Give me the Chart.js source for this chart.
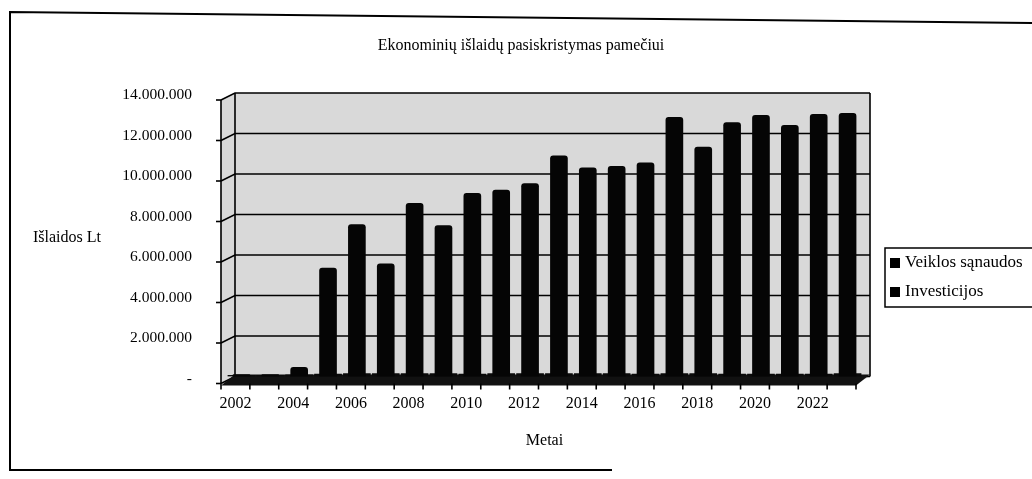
<!doctype html>
<html>

<head>
	<title>Ekonominių išlaidų pasiskristymas pamečiui</title>
	<script src="https://cdn.jsdelivr.net/npm/chart.js@4/dist/chart.umd.min.js"></script>
	<style>
		body { margin: 0; background: #fff; }
	</style>
</head>

<body>
	<canvas id="chart-area" width="1032" height="479"></canvas>
	<script>
		// data
		var years = ['2002', '2003', '2004', '2005', '2006', '2007', '2008', '2009', '2010', '2011', '2012',
			'2013', '2014', '2015', '2016', '2017', '2018', '2019', '2020', '2021', '2022', '2023'];
		var veiklosSanaudos = [100000, 100000, 450000, 5350000, 7500000, 5570000, 8550000, 7450000, 9040000, 9200000, 9530000,
			10900000, 10300000, 10380000, 10550000, 12800000, 11330000, 12540000, 12900000, 12400000, 12950000, 13000000];
		var investicijos = [60000, 60000, 80000, 120000, 150000, 150000, 150000, 150000, 120000, 150000, 150000,
			150000, 150000, 150000, 120000, 150000, 150000, 120000, 120000, 120000, 120000, 150000];
		var yTicks = [0, 2000000, 4000000, 6000000, 8000000, 10000000, 12000000, 14000000];

		var titleText = 'Ekonominių išlaidų pasiskristymas pamečiui';
		var yTitle = 'Išlaidos Lt';
		var xTitle = 'Metai';

		var SERIF = "'Liberation Serif', 'Times New Roman', serif";
		// 3D offsets: front face and back wall relative to the bar plane
		var FX = -6, FY = 7, BX = 8;

		function formatLt(v) {
			if (v === 0) return '-';
			return String(v).replace(/\B(?=(\d{3})+(?!\d))/g, '.');
		}

		var frame3d = {
			id: 'frame3d',
			beforeDatasetsDraw: function(chart) {
				var ctx = chart.ctx, a = chart.chartArea, y = chart.scales.y;
				var y0 = y.getPixelForValue(0), yTop = y.getPixelForValue(14000000);
				ctx.save();
				// walls
				ctx.fillStyle = '#d9d9d9';
				ctx.beginPath();
				ctx.moveTo(a.left + FX, y0 + FY);
				ctx.lineTo(a.left + FX, yTop + FY);
				ctx.lineTo(a.left + BX, yTop);
				ctx.lineTo(a.right + BX, yTop);
				ctx.lineTo(a.right + BX, y0);
				ctx.lineTo(a.right + FX, y0 + FY);
				ctx.closePath();
				ctx.fill();

				ctx.strokeStyle = '#000';
				ctx.lineWidth = 1.6;
				yTicks.forEach(function(v) {
					var p = y.getPixelForValue(v);
					ctx.beginPath();
					ctx.moveTo(a.left + FX, p + FY);
					ctx.lineTo(a.left + BX, p);
					ctx.lineTo(a.right + BX, p);
					ctx.stroke();
					ctx.beginPath();
					ctx.moveTo(a.left + FX - 5, p + FY);
					ctx.lineTo(a.left + FX, p + FY);
					ctx.stroke();
				});
				ctx.beginPath();
				ctx.moveTo(a.left + FX, yTop + FY);
				ctx.lineTo(a.left + FX, y0 + FY);
				ctx.moveTo(a.left + BX, yTop);
				ctx.lineTo(a.left + BX, y0);
				ctx.moveTo(a.right + BX, yTop);
				ctx.lineTo(a.right + BX, y0);
				ctx.stroke();

				// floor
				ctx.fillStyle = '#111';
				ctx.beginPath();
				ctx.moveTo(a.left + FX, y0 + FY + 2);
				ctx.lineTo(a.left + BX, y0 - 2);
				ctx.lineTo(a.right + BX, y0 - 2);
				ctx.lineTo(a.right + FX, y0 + FY + 2);
				ctx.closePath();
				ctx.fill();

				// category ticks on the front edge
				var step = (a.right - a.left) / years.length;
				ctx.beginPath();
				for (var i = 0; i <= years.length; i++) {
					var x = a.left + i * step + FX;
					ctx.moveTo(x, y0 + FY);
					ctx.lineTo(x, y0 + FY + 6);
				}
				ctx.stroke();
				ctx.restore();
			},
			afterDraw: function(chart) {
				var ctx = chart.ctx;
				ctx.save();
				ctx.fillStyle = '#000';
				ctx.textBaseline = 'middle';
				ctx.font = '16px ' + SERIF;
				ctx.textAlign = 'center';
				ctx.fillText(titleText, 521, 46);
				ctx.textAlign = 'left';
				ctx.fillText(yTitle, 33, 238);

				// legend
				ctx.strokeStyle = '#000';
				ctx.lineWidth = 1.5;
				ctx.beginPath();
				ctx.moveTo(1034, 248);
				ctx.lineTo(885, 248);
				ctx.lineTo(885, 307);
				ctx.lineTo(1034, 307);
				ctx.stroke();
				ctx.font = '17px ' + SERIF;
				var items = chart.data.datasets;
				items.forEach(function(ds, i) {
					var cy = 263 + i * 29;
					ctx.fillStyle = '#000';
					ctx.fillRect(890, cy - 5, 10, 10);
					ctx.fillText(ds.label, 905, cy);
				});

				// outer frame of the scanned page
				ctx.lineWidth = 2;
				ctx.beginPath();
				ctx.moveTo(1032, 23);
				ctx.lineTo(10, 12);
				ctx.lineTo(10, 470);
				ctx.lineTo(612, 470);
				ctx.stroke();
				ctx.restore();
			}
		};

		var config = {
			type: 'bar',
			data: {
				labels: years,
				datasets: [{
					label: 'Veiklos sąnaudos',
					data: veiklosSanaudos,
					backgroundColor: '#050505',
					grouped: false,
					barThickness: 17,
					borderRadius: { topLeft: 3, topRight: 3 },
					borderSkipped: 'start'
				}, {
					label: 'Investicijos',
					data: investicijos,
					backgroundColor: '#0a0a0a',
					grouped: false,
					barThickness: 27
				}]
			},
			options: {
				responsive: false,
				animation: false,
				layout: {
					padding: { left: 107, right: 170, top: 93, bottom: 22.5 }
				},
				plugins: {
					legend: { display: false },
					title: { display: false },
					tooltip: { enabled: false }
				},
				scales: {
					x: {
						grid: { display: false, drawTicks: false },
						border: { display: false },
						ticks: {
							autoSkip: false,
							maxRotation: 0,
							padding: 18,
							labelOffset: -6,
							color: '#000',
							font: { family: SERIF, size: 16 },
							callback: function(val, i) { return i % 2 === 0 ? years[i] : ''; }
						},
						title: {
							display: true,
							text: xTitle,
							color: '#000',
							font: { family: SERIF, size: 16 },
							padding: { top: 0, bottom: 6 }
						},
						afterFit: function(scale) { scale.height = 80; }
					},
					y: {
						min: 0,
						max: 14000000,
						grid: { display: false, drawTicks: false },
						border: { display: false },
						ticks: {
							stepSize: 2000000,
							padding: 35,
							labelOffset: 2,
							color: '#000',
							font: { family: SERIF, size: 15.5 },
							callback: function(v) { return formatLt(v); }
						},
						afterFit: function(scale) { scale.width = 120; }
					}
				}
			},
			plugins: [frame3d]
		};

		window.onload = function() {
			var ctx = document.getElementById('chart-area').getContext('2d');
			window.myBar = new Chart(ctx, config);
		};
	</script>
</body>

</html>
